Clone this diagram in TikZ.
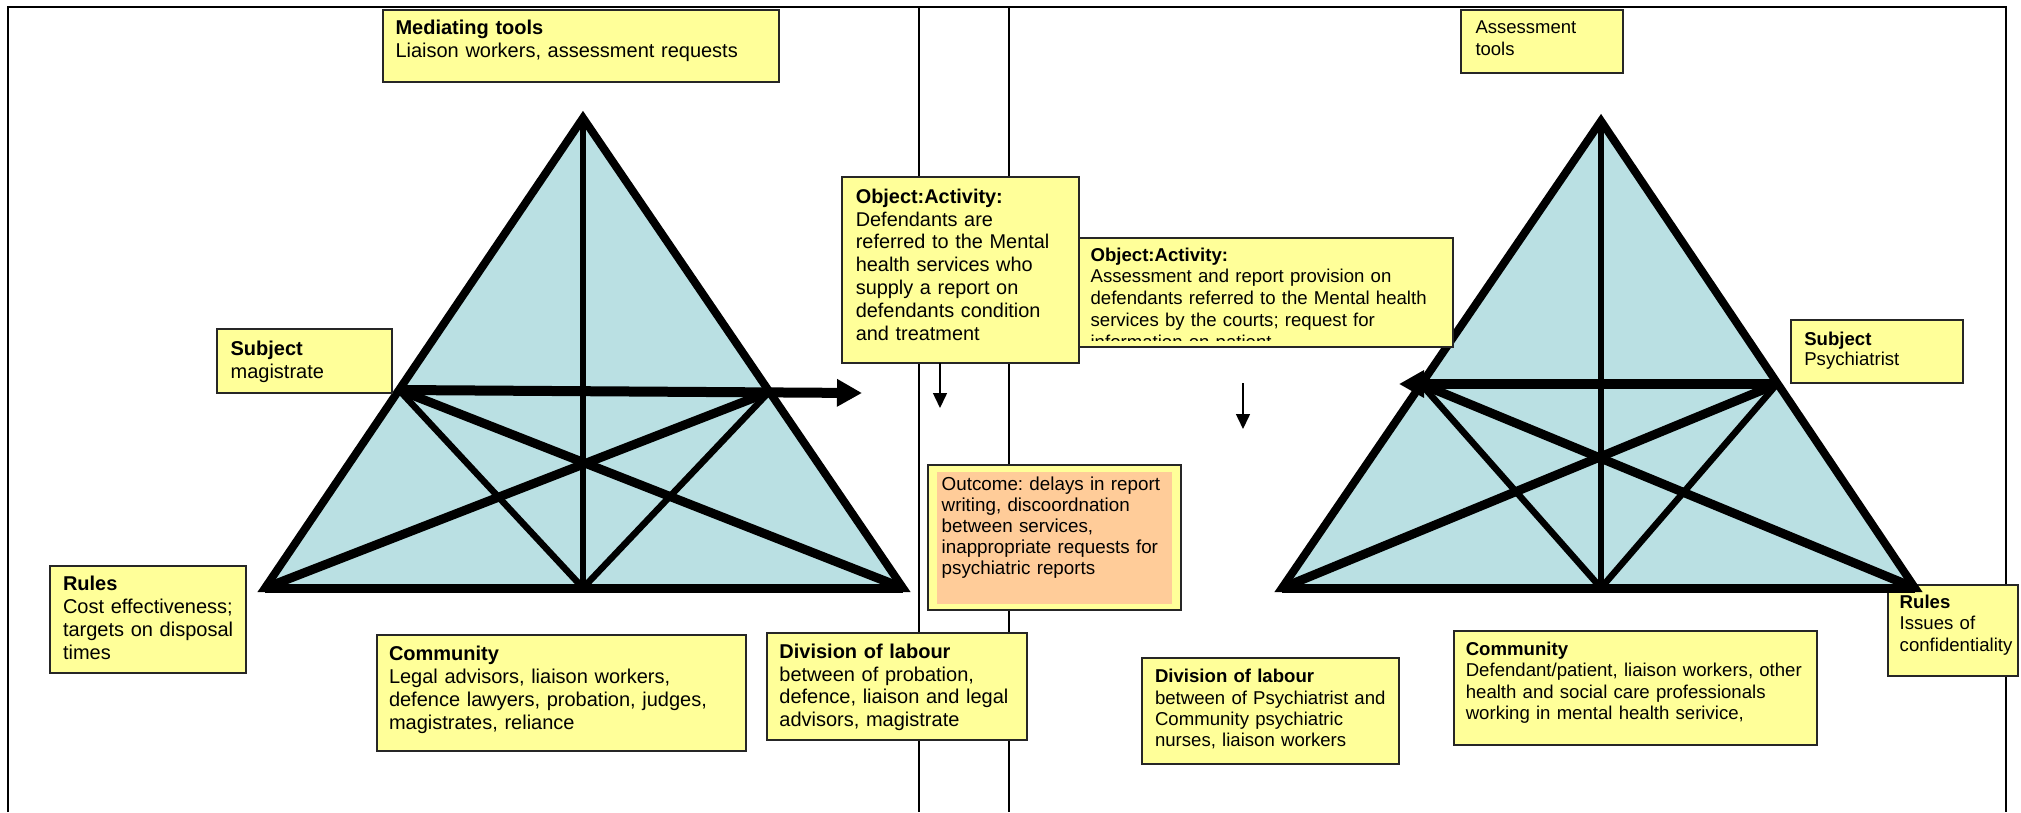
\documentclass[tikz,border=0pt]{standalone}
\usepackage{fontspec}
\setmainfont{Liberation Sans}
\usetikzlibrary{arrows.meta,fit}
\definecolor{yfill}{HTML}{FFFF99}
\definecolor{tblue}{HTML}{BAE0E3}
\definecolor{ofill}{HTML}{FFCC99}
\frenchspacing
\tikzset{
  ybox/.style={draw=black!85, line width=2pt, fill=yfill, inner sep=0pt, outer sep=0pt},
  obox/.style={fill=ofill, inner sep=0pt, outer sep=0pt},
  ltext/.style={anchor=base west, inner sep=0pt, outer sep=0pt, text width=500pt, align=left, font=\fontsize{20}{23}\selectfont},
  rtext/.style={ltext, font=\fontsize{18.6}{21.6}\selectfont},
  tri/.style={draw=black, fill=tblue, line width=8pt, line join=miter},
  median/.style={draw=black, line width=6.5pt},
  xdiag/.style={draw=black, line width=9pt},
  vline/.style={draw=black, line width=6.5pt},
  baseline/.style={draw=black, line width=9pt},
  subjarrow/.style={draw=black, line width=10pt, -{Triangle[length=25pt,width=26pt]}},
  thinarrow/.style={draw=black, line width=1.5pt, -{Triangle[length=15pt,width=14pt]}},
  frameline/.style={draw=black, line width=2.5pt},
  divider/.style={draw=black, line width=1.8pt}
}
\begin{document}
\begin{tikzpicture}[x=1pt,y=-1pt]
\useasboundingbox (0,0) rectangle (2021,812);
% frame
\coordinate (fbl) at (8,812);
\coordinate (ftl) at (8,7);
\coordinate (ftr) at (2006,7);
\coordinate (fbr) at (2006,812);
\draw[frameline] (fbl) -- (ftl) -- (ftr) -- (fbr);
\coordinate (d1t) at (919,7); \coordinate (d1b) at (919,812);
\coordinate (d2t) at (1009,7); \coordinate (d2b) at (1009,812);
\draw[divider] (d1t) -- (d1b);
\draw[divider] (d2t) -- (d2b);

% right Rules box (under the triangle corner)
\node[ybox, fit={(1888,585) (2018,676)}] (rulesRbox) {};
\node[rtext] (rulesR) at (1899.7,608.3) {\textbf{Rules}\\Issues of\\confidentiality};

% triangle 1
\coordinate (A1) at (583,118);
\coordinate (L1) at (265,588);
\coordinate (R1) at (903,588);
\coordinate (M1) at (583,588);
\coordinate (PL1) at (399,390);
\coordinate (PR1) at (769,392);
\coordinate (E1) at (862,393);
\draw[tri] (A1) -- (L1) -- (R1) -- cycle;
\draw[median] (A1) -- (M1);
\draw[vline] (PL1) -- (M1);
\draw[vline] (PR1) -- (M1);
\draw[xdiag] (PL1) -- (R1);
\draw[xdiag] (PR1) -- (L1);
\draw[baseline] (L1) -- (R1);
\draw[subjarrow] (PL1) -- (E1);

% triangle 2
\coordinate (A2) at (1601,121);
\coordinate (L2) at (1282,588);
\coordinate (R2) at (1915,588);
\coordinate (M2) at (1601,588);
\coordinate (PL2) at (1421,384);
\coordinate (PR2) at (1777,384);
\coordinate (E2) at (1399,384);
\draw[tri] (A2) -- (L2) -- (R2) -- cycle;
\draw[median] (A2) -- (M2);
\draw[vline] (PL2) -- (M2);
\draw[vline] (PR2) -- (M2);
\draw[xdiag] (PL2) -- (R2);
\draw[xdiag] (PR2) -- (L2);
\draw[baseline] (L2) -- (R2);
\draw[subjarrow] (PR2) -- (E2);

% left boxes
\node[ybox, fit={(383,10) (779,82)}] (medbox) {};
\node[ltext] (med) at (395.5,34.5) {\textbf{Mediating tools}\\Liaison workers, assessment requests};

\node[ybox, fit={(217,329) (392,393)}] (subjLbox) {};
\node[ltext] (subjL) at (230.6,355) {\textbf{Subject}\\magistrate};

\node[ybox, fit={(50,566) (246,673)}] (rulesLbox) {};
\node[ltext] (rulesL) at (63,590.7) {\textbf{Rules}\\Cost effectiveness;\\targets on disposal\\times};

\node[ybox, fit={(377,635) (746,751)}] (commLbox) {};
\node[ltext] (commL) at (389,660) {\textbf{Community}\\Legal advisors, liaison workers,\\defence lawyers, probation, judges,\\magistrates, reliance};

\node[ybox, fit={(766.5,633) (1027,740)}] (divLbox) {};
\node[ltext, font=\fontsize{20}{22.8}\selectfont] (divL) at (779.4,658.3) {\textbf{Division of labour}\\between of probation,\\defence, liaison and legal\\advisors, magistrate};

% object boxes
\node[ybox, fit={(842,177) (1079,363)}] (obj1box) {};
\node[ltext, font=\fontsize{19.9}{22.8}\selectfont] (obj1) at (855.8,203.3) {\textbf{Object:Activity:}\\Defendants are\\referred to the Mental\\health services who\\supply a report on\\defendants condition\\and treatment};

\node[ybox, fit={(1079,238) (1453,347)}] (obj2box) {};
\begin{scope}
\clip (1079,238) rectangle (1453,340);
\node[rtext, font=\fontsize{18.6}{21.8}\selectfont] (obj2) at (1090.6,261) {\textbf{Object:Activity:}\\Assessment and report provision on\\defendants referred to the Mental health\\services by the courts; request for\\information on patient};
\end{scope}

% down arrows
\coordinate (da1s) at (940,363); \coordinate (da1e) at (940,408);
\draw[thinarrow] (da1s) -- (da1e);
\coordinate (da2s) at (1243,383); \coordinate (da2e) at (1243,429);
\draw[thinarrow] (da2s) -- (da2e);

% outcome
\node[ybox, fit={(928,465) (1181,610)}] (outbox) {};
\node[obox, fit={(937,472) (1172,604)}] (outinner) {};
\node[rtext, font=\fontsize{18.8}{21}\selectfont] (out) at (941.7,490) {Outcome: delays in report\\writing, discoordnation\\between services,\\inappropriate requests for\\psychiatric reports};

% right boxes
\node[ybox, fit={(1461,10) (1623,73)}] (assbox) {};
\node[rtext, font=\fontsize{18.5}{22}\selectfont] (ass) at (1475.5,33.3) {Assessment\\tools};

\node[ybox, fit={(1791,320) (1963,383)}] (subjRbox) {};
\node[rtext, font=\fontsize{18.6}{20.7}\selectfont] (subjR) at (1804.3,345) {\textbf{Subject}\\Psychiatrist};

\node[ybox, fit={(1453.6,631) (1817,745)}] (commRbox) {};
\node[rtext] (commR) at (1465.8,655) {\textbf{Community}\\Defendant/patient, liaison workers, other\\health and social care professionals\\working in mental health serivice,};

\node[ybox, fit={(1142,658) (1399,764)}] (divRbox) {};
\node[rtext, font=\fontsize{18.6}{21.3}\selectfont] (divR) at (1155,682.7) {\textbf{Division of labour}\\between of Psychiatrist and\\Community psychiatric\\nurses, liaison workers};
\end{tikzpicture}
\end{document}
